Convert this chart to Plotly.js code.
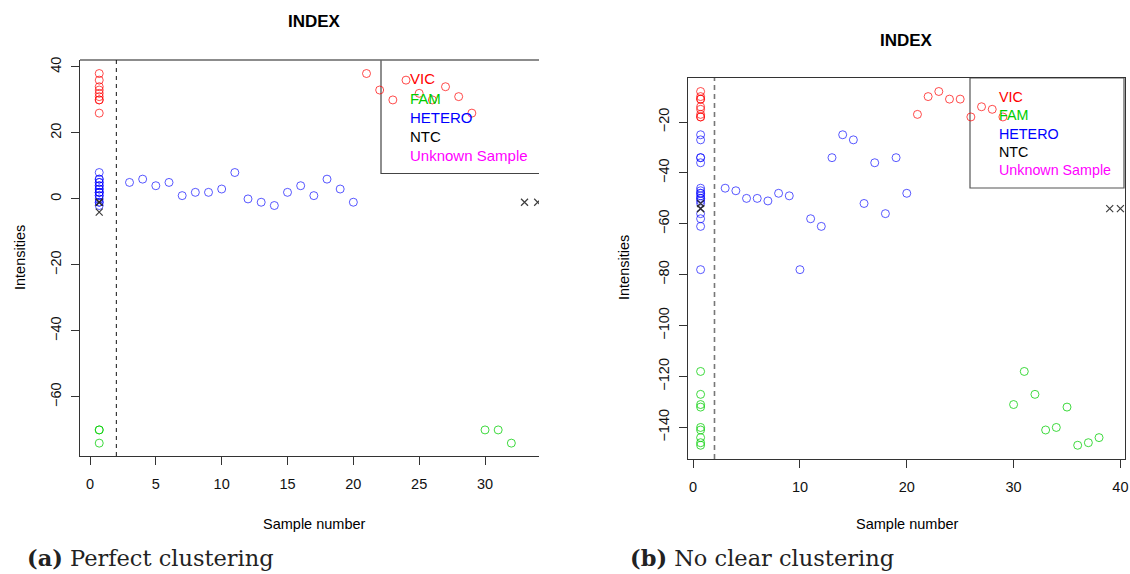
<!DOCTYPE html>
<html>
<head>
<meta charset="utf-8">
<script src="https://cdn.plot.ly/plotly-3.0.1.min.js"></script>
<style>html,body{margin:0;padding:0;background:#fff;}#chart{width:1130px;height:574px;}</style>
</head>
<body>
<div id="chart"></div>
<script>
// ---------- DATA ----------
const plotTitle = "INDEX";
const xAxisTitle = "Sample number";
const yAxisTitle = "Intensities";
const captionA = "<b>(a)</b> Perfect clustering";
const captionB = "<b>(b)</b> No clear clustering";
const legendLabels = ["VIC", "FAM", "HETERO", "NTC", "Unknown Sample"];
const legendColors = ["#FF0000", "#00CD00", "#0000FF", "#000000", "#FF00FF"];
const columnX = 0.7;     // all intensities projected onto one column
const separatorX = 2;    // dashed separator

// (a) Perfect clustering
const vicA_x = [21, 22, 23, 24, 25, 26, 27, 28, 29];
const vicA_y = [38, 33, 30, 36, 32, 30, 34, 31, 26];
const hetA_x = [3, 4, 5, 6, 7, 8, 9, 10, 11, 12, 13, 14, 15, 16, 17, 18, 19, 20];
const hetA_y = [5, 6, 4, 5, 1, 2, 2, 3, 8, 0, -1, -2, 2, 4, 1, 6, 3, -1];
const famA_x = [30, 31, 32];
const famA_y = [-70, -70, -74];
const ntcA_x = [33, 34, 35];
const ntcA_y = [-1, -1, -4];
const xTicksA = [0, 5, 10, 15, 20, 25, 30];
const yTicksA = [-60, -40, -20, 0, 20, 40];

// (b) No clear clustering
const vicB_x = [21, 22, 23, 24, 25, 26, 27, 28, 29];
const vicB_y = [-17, -10, -8, -11, -11, -18, -14, -15, -18];
const hetB_x = [3, 4, 5, 6, 7, 8, 9, 10, 11, 12, 13, 14, 15, 16, 17, 18, 19, 20];
const hetB_y = [-46, -47, -50, -50, -51, -48, -49, -78, -58, -61, -34, -25, -27, -52, -36, -56, -34, -48];
const famB_x = [30, 31, 32, 33, 34, 35, 36, 37, 38];
const famB_y = [-131, -118, -127, -141, -140, -132, -147, -146, -144];
const ntcB_x = [39, 40, 41];
const ntcB_y = [-54, -54, -52];
const xTicksB = [0, 10, 20, 30, 40];
const yTicksB = [-140, -120, -100, -80, -60, -40, -20];

// ---------- STYLE ----------
const W = 1130, H = 574;
const px = x => x / W;
const py = y => 1 - y / H;
const FONT = "Liberation Sans, Arial, Helvetica, sans-serif";
const SERIF = "DejaVu Serif, Liberation Serif, serif";
const markerCol = {
  VIC: "rgba(255,0,0,0.7)",
  FAM: "rgba(0,205,0,0.75)",
  HETERO: "rgba(0,0,255,0.65)",
  NTC: "rgba(40,40,40,0.9)"
};

function circ(x, y, col, xa, ya) {
  return {x: x, y: y, xaxis: xa, yaxis: ya, type: "scatter", mode: "markers",
    marker: {symbol: "circle-open", size: 8, color: col, line: {width: 1, color: col}},
    hoverinfo: "x+y", showlegend: false};
}
function cross(x, y, xa, ya) {
  return {x: x, y: y, xaxis: xa, yaxis: ya, type: "scatter", mode: "markers",
    marker: {symbol: "x-thin-open", size: 7, color: markerCol.NTC, line: {width: 1.2, color: markerCol.NTC}},
    hoverinfo: "x+y", showlegend: false};
}
const col = arr => arr.map(() => columnX);

function panel(xa, ya, d) {
  return [
    circ(col(d.vy), d.vy, markerCol.VIC, xa, ya),
    circ(col(d.fy), d.fy, markerCol.FAM, xa, ya),
    circ(col(d.hy), d.hy, markerCol.HETERO, xa, ya),
    cross(col(d.ny), d.ny, xa, ya),
    circ(d.vx, d.vy, markerCol.VIC, xa, ya),
    circ(d.hx, d.hy, markerCol.HETERO, xa, ya),
    circ(d.fx, d.fy, markerCol.FAM, xa, ya),
    cross(d.nx, d.ny, xa, ya)
  ];
}

const traces = [].concat(
  panel("x", "y", {vx: vicA_x, vy: vicA_y, hx: hetA_x, hy: hetA_y, fx: famA_x, fy: famA_y, nx: ntcA_x, ny: ntcA_y}),
  panel("x2", "y2", {vx: vicB_x, vy: vicB_y, hx: hetB_x, hy: hetB_y, fx: famB_x, fy: famB_y, nx: ntcB_x, ny: ntcB_y})
);

const axisCommon = {
  showgrid: false, zeroline: false, showline: true, linecolor: "#333", linewidth: 1,
  ticks: "outside", ticklen: 8, tickcolor: "#333", tickwidth: 1,
  tickfont: {family: FONT, size: 14.5, color: "#111"}, fixedrange: true
};

const layout = {
  width: W, height: H,
  margin: {l: 0, r: 0, t: 0, b: 0},
  paper_bgcolor: "#fff", plot_bgcolor: "#fff",
  showlegend: false,
  xaxis: Object.assign({}, axisCommon, {domain: [px(80), px(539)], range: [-0.76, 34.1],
    tickmode: "array", tickvals: xTicksA, anchor: "y", ticklabelstandoff: 7}),
  yaxis: Object.assign({}, axisCommon, {domain: [py(456), py(60)], range: [-77.9, 42.1],
    tickmode: "array", tickvals: yTicksA, tickangle: -90, anchor: "x", ticklabelstandoff: 4}),
  xaxis2: Object.assign({}, axisCommon, {domain: [px(688), px(1125)], range: [-0.48, 40.43],
    tickmode: "array", tickvals: xTicksB, anchor: "y2", mirror: true, ticklabelstandoff: 7}),
  yaxis2: Object.assign({}, axisCommon, {domain: [py(459), py(78)], range: [-152.4, -2.7],
    tickmode: "array", tickvals: yTicksB, tickangle: -90, anchor: "x2", mirror: true, ticklabelstandoff: 4}),
  shapes: [
    // top line of left box (right side cropped)
    {type: "line", xref: "paper", yref: "paper", x0: px(80), x1: px(539), y0: py(60), y1: py(60), line: {color: "#666", width: 1.5}},
    // dashed separators
    {type: "line", xref: "x", yref: "y domain", x0: separatorX, x1: separatorX, y0: 0, y1: 1, line: {color: "#111", width: 1, dash: "4px,4px"}},
    {type: "line", xref: "x2", yref: "y2 domain", x0: separatorX, x1: separatorX, y0: 0, y1: 1, line: {color: "#777", width: 1.6, dash: "5px,4px"}},
    // legend boxes
    {type: "path", xref: "paper", yref: "paper", layer: "below",
      path: `M ${px(381)} ${py(60)} L ${px(381)} ${py(173.5)} L ${px(539)} ${py(173.5)}`, line: {color: "#444", width: 1.2}},
    {type: "rect", xref: "paper", yref: "paper", layer: "below",
      x0: px(970), x1: px(1124), y0: py(188), y1: py(78), line: {color: "#555", width: 1.2}}
  ],
  annotations: []
};

function ann(text, x, y, opts) {
  layout.annotations.push(Object.assign({text: text, xref: "paper", yref: "paper", x: px(x), y: py(y),
    showarrow: false, xanchor: "center", yanchor: "middle",
    font: {family: FONT, size: 14, color: "#000"}}, opts || {}));
}
// titles
ann("<b>" + plotTitle + "</b>", 314, 21, {font: {family: FONT, size: 17, color: "#000"}});
ann("<b>" + plotTitle + "</b>", 906, 41, {font: {family: FONT, size: 17, color: "#000"}});
// axis titles
ann(xAxisTitle, 314, 524, {font: {family: FONT, size: 14.5, color: "#000"}});
ann(xAxisTitle, 907, 524, {font: {family: FONT, size: 14.5, color: "#000"}});
ann(yAxisTitle, 20, 258, {textangle: -90, font: {family: FONT, size: 14.5, color: "#000"}});
ann(yAxisTitle, 624, 268, {textangle: -90, font: {family: FONT, size: 14.5, color: "#000"}});
// legends
legendLabels.forEach((lab, i) => {
  ann(lab, 408, 79 + i * 19, {xanchor: "left", font: {family: FONT, size: 15, color: legendColors[i]}});
  ann(lab, 997, 96.5 + i * 18.5, {xanchor: "left", font: {family: FONT, size: 14.3, color: legendColors[i]}});
});
// captions
ann(captionA, 25, 558, {xanchor: "left", font: {family: SERIF, size: 22.5, color: "#222"}});
ann(captionB, 628, 558, {xanchor: "left", font: {family: SERIF, size: 22.5, color: "#222"}});

Plotly.newPlot("chart", traces, layout, {staticPlot: true, displayModeBar: false});
</script>
</body>
</html>
